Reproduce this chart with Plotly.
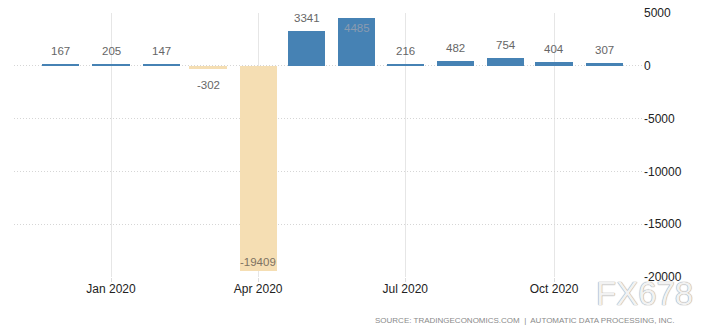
import plotly.graph_objects as go

months = ["2019-12-01", "2020-01-01", "2020-02-01", "2020-03-01", "2020-04-01", "2020-05-01",
          "2020-06-01", "2020-07-01", "2020-08-01", "2020-09-01", "2020-10-01", "2020-11-01"]
values = [167, 205, 147, -302, -19409, 3341, 4485, 216, 482, 754, 404, 307]
tick_dates = ["2020-01-01", "2020-04-01", "2020-07-01", "2020-10-01"]
tick_text = ["Jan 2020", "Apr 2020", "Jul 2020", "Oct 2020"]
y_ticks = [5000, 0, -5000, -10000, -15000, -20000]

BLUE = "#4682b4"
WHEAT = "#f5deb3"
colors = [BLUE if v >= 0 else WHEAT for v in values]

fig = go.Figure()
fig.add_trace(go.Bar(
    x=months, y=values, marker=dict(color=colors, line=dict(width=0)),
    width=[23 * 86400000] * len(values), hoverinfo="skip",
))

LBL = dict(size=11.5, family="Liberation Sans")
annotations = []
for m, v in zip(months, values):
    if v >= 4000:
        annotations.append(dict(x=m, y=v, xref="x", yref="y", text=str(v), showarrow=False,
                                yanchor="top", yshift=-2, font=dict(LBL, color="#8a9bb0")))
    elif v <= -15000:
        annotations.append(dict(x=m, y=v, xref="x", yref="y", text=str(v), showarrow=False,
                                yanchor="bottom", yshift=1, font=dict(LBL, color="#7d7262")))
    elif v >= 0:
        annotations.append(dict(x=m, y=v, xref="x", yref="y", text=str(v), showarrow=False,
                                yanchor="bottom", yshift=5, font=dict(LBL, color="#666666")))
    else:
        annotations.append(dict(x=m, y=v, xref="x", yref="y", text=str(v), showarrow=False,
                                yanchor="top", yshift=-8, font=dict(LBL, color="#666666")))

annotations.append(dict(xref="paper", yref="paper", x=1.054, y=-0.163, xanchor="right", yanchor="middle",
                        text="SOURCE: TRADINGECONOMICS.COM  |  AUTOMATIC DATA PROCESSING, INC.",
                        showarrow=False, font=dict(size=8, color="#8a8a8a", family="Liberation Sans")))
annotations.append(dict(xref="paper", yref="paper", x=1.003, y=-0.064, xanchor="center", yanchor="middle",
                        text="FX678", showarrow=False,
                        font=dict(size=33, color="#f2f2f2", family="Liberation Sans",
                                  shadow="0 0 1px #999, 0 0 1px #999")))

fig.update_layout(
    width=724, height=330,
    margin=dict(l=14, r=81, t=13, b=53),
    paper_bgcolor="white", plot_bgcolor="white",
    showlegend=False,
    annotations=annotations,
    xaxis=dict(
        type="date", range=["2019-11-02", "2020-11-25"], automargin=False,
        tickmode="array", tickvals=tick_dates, ticktext=tick_text,
        showgrid=True, gridcolor="#e6e6e6", gridwidth=1,
        ticks="outside", ticklen=4, tickcolor="#dddddd",
        tickfont=dict(size=12, color="#222222", family="Liberation Sans"),
        ticklabelstandoff=-3,
        showline=False, zeroline=False,
    ),
    yaxis=dict(
        side="right", range=[-20000, 5000], automargin=False,
        tickmode="array", tickvals=y_ticks, ticktext=[str(t) for t in y_ticks],
        showgrid=True, gridcolor="#d6d6d6", griddash="1px,2px", gridwidth=1,
        zeroline=False, showline=False, ticks="",
        tickfont=dict(size=12, color="#222222", family="Liberation Sans"),
    ),
    bargap=0,
)

fig.write_html("out.html")
